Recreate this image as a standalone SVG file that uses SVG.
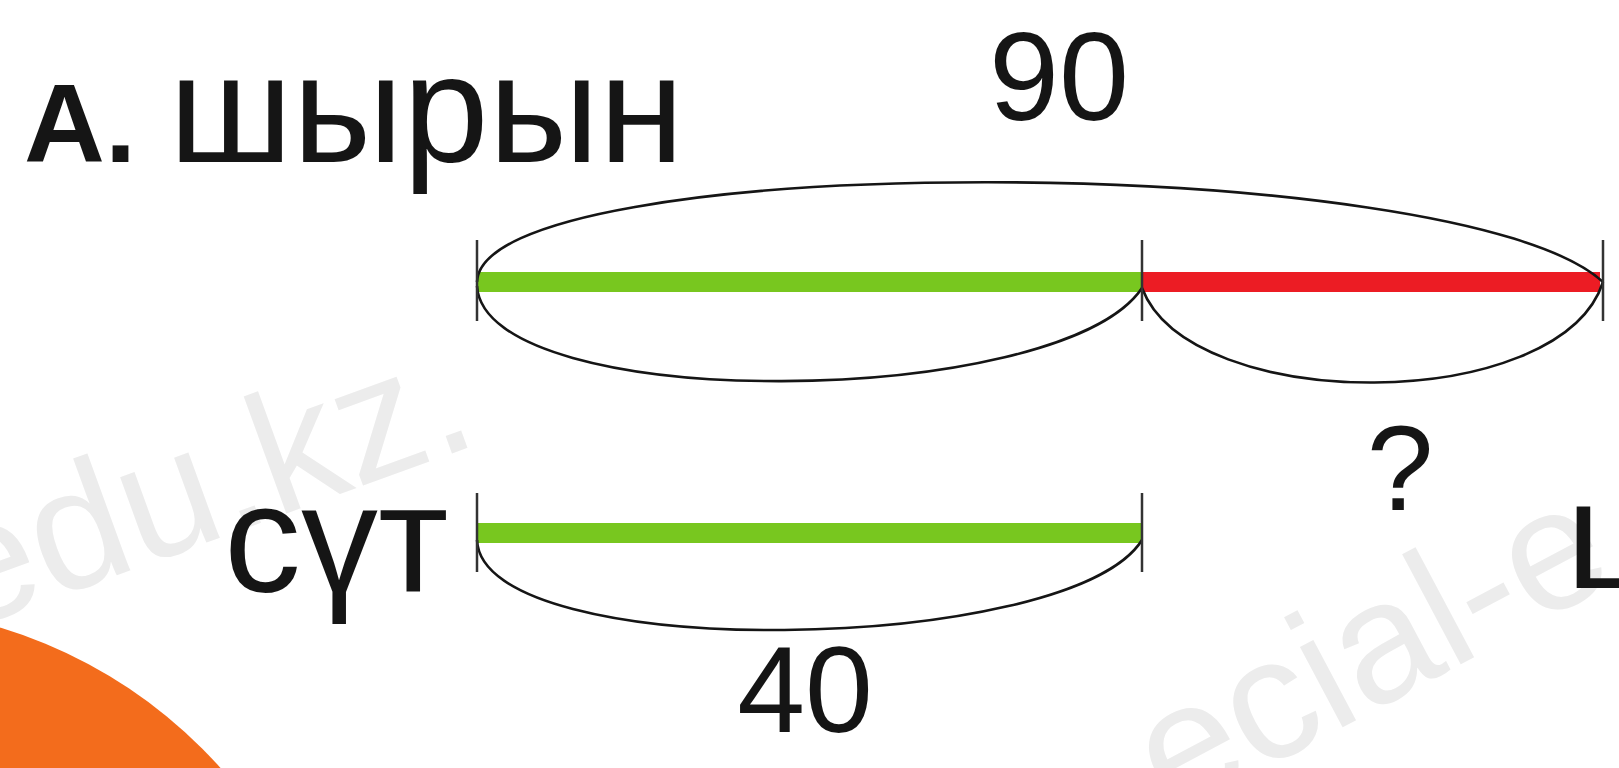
<svg xmlns="http://www.w3.org/2000/svg" width="1619" height="768" viewBox="0 0 1619 768">
<style>
.t{font-family:"Liberation Sans",Arial,sans-serif;fill:#151515}
.wm{font-family:"Liberation Sans",Arial,sans-serif;fill:#ececec}
.arc{fill:none;stroke:#151515;stroke-width:2.6}
.tick{stroke:#333;stroke-width:2.5}
</style>
<rect width="1619" height="768" fill="#ffffff"/>
<g id="watermarks">
<text class="wm" x="-39" y="632" font-size="172" transform="rotate(-20 -39 632)">edu.kz.</text>
<text class="wm" x="1172" y="818" font-size="172" transform="rotate(-28 1172 818)">ecial-e</text>
</g>
<circle id="orange-circle" cx="-139" cy="1089" r="482" fill="#f36c1c"/>
<g id="title"><text class="t" x="24" y="162" font-size="112" font-weight="bold">А.</text><text class="t" x="169" y="162" font-size="154" textLength="515">шырын</text></g>
<g id="label-90"><text class="t" x="1059" y="120" font-size="126" text-anchor="middle">90</text></g>
<g id="label-q"><text class="t" x="1400" y="510" font-size="120" text-anchor="middle">?</text></g>
<g id="label-sut"><text class="t" x="224" y="592" font-size="154">сүт</text></g>
<g id="label-40"><text class="t" x="805" y="732" font-size="122" text-anchor="middle">40</text></g>
<g id="label-cut"><text class="t" x="1566" y="588" font-size="154">ш</text></g>
<g id="bar-top">
<line x1="477" y1="282" x2="1142" y2="282" stroke="#78c71f" stroke-width="20"/>
<line x1="1142" y1="282" x2="1600" y2="282" stroke="#ec1c24" stroke-width="20"/>
</g>
<g id="bar-bottom">
<line x1="477" y1="533" x2="1142" y2="533" stroke="#78c71f" stroke-width="20"/>
</g>
<g id="connectors">
<path class="arc" d="M477,282 C482,148 1460,150 1603,282"/>
<path class="arc" d="M477,286 C485,415 1060,410 1142,288"/>
<path class="arc" d="M1142,288 C1190,415 1560,415 1603,282"/>
<path class="arc" d="M477,540 C482,665 1070,655 1142,540"/>
<line class="tick" x1="477" y1="240" x2="477" y2="321"/>
<line class="tick" x1="1142" y1="240" x2="1142" y2="321"/>
<line class="tick" x1="1603" y1="240" x2="1603" y2="321"/>
<line class="tick" x1="477" y1="493" x2="477" y2="572"/>
<line class="tick" x1="1142" y1="493" x2="1142" y2="572"/>
</g>
</svg>
